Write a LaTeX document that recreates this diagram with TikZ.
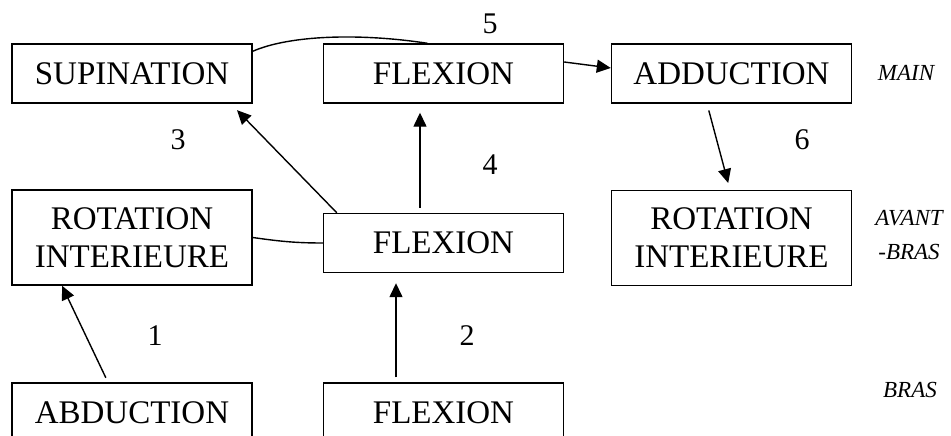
\documentclass[tikz,border=0pt]{standalone}
\usepackage{fontspec}
\setmainfont{Liberation Serif}
\usetikzlibrary{arrows.meta,calc}

\begin{document}
\begin{tikzpicture}[x=1pt,y=-1pt,
  box/.style={draw,line width=1.4pt,minimum width=240pt,minimum height=59pt,inner sep=0pt,align=center,font=\fontsize{33}{38}\selectfont},
  tall/.style={box,minimum height=95pt},
  num/.style={inner sep=0pt,font=\fontsize{30}{36}\selectfont},
  side/.style={inner sep=0pt,align=center,font=\fontsize{23}{34}\selectfont\itshape},
  arr/.style={line width=1.4pt,-{Triangle[length=14pt,width=13pt]}},
  link/.style={line width=1.4pt}]
\useasboundingbox (0,0) rectangle (951,436);
\clip (0,0) rectangle (951,436);
% boxes
\node[box] (sup) at (132,73.5) {SUPINATION};
\node[box] (flexT) at (443.5,73.5) {FLEXION};
\node[box] (add) at (731.5,73.5) {ADDUCTION};
\node[tall] (rotL) at (132,237.5) {ROTATION\\INTERIEURE};
\node[box] (flexM) at (443.5,243) {FLEXION};
\node[tall] (rotR) at (731.5,238) {ROTATION\\INTERIEURE};
\node[box] (abd) at (132,412.5) {ABDUCTION};
\node[box] (flexB) at (443.5,412.5) {FLEXION};
% levels
\node[side] (main) at (906,73) {MAIN};
\node[side] (avant) at (909,235) {AVANT\\-BRAS};
\node[side] (bras) at (910,390) {BRAS};
% numbers
\node[num] (n1) at (155,336) {1};
\node[num] (n2) at (467,336) {2};
\node[num] (n3) at (178,140) {3};
\node[num] (n4) at (490,165) {4};
\node[num] (n5) at (490,24) {5};
\node[num] (n6) at (802,140) {6};
% connectors
\draw[arr,shorten <=5pt] ([xshift=-24pt]abd.north) -- ([xshift=-70pt]rotL.south);
\draw[arr,shorten <=5pt,shorten >=10pt] ([xshift=-47.5pt]flexB.north) -- ([xshift=-47.5pt]flexM.south);
\draw[arr,shorten >=9pt] ([xshift=14pt]flexM.north west) -- ([xshift=-22pt]sup.south east);
\draw[arr,shorten <=5pt,shorten >=9pt] ([xshift=-23.5pt]flexM.north) -- ([xshift=-23.5pt]flexT.south);
\draw[link] ([yshift=-8pt]sup.north east) .. controls (290,35) and (360,33) .. ([xshift=-16pt]flexT.north);
\draw[arr] ([yshift=11.5pt]flexT.east) -- ([yshift=5.5pt]add.west);
\draw[arr,shorten <=7pt,shorten >=7pt] ([xshift=-24.5pt]add.south) -- ([xshift=-1.5pt]rotR.north);
\draw[link] (rotL.east) to[out=-8,in=180] (flexM.west);
\end{tikzpicture}
\end{document}
